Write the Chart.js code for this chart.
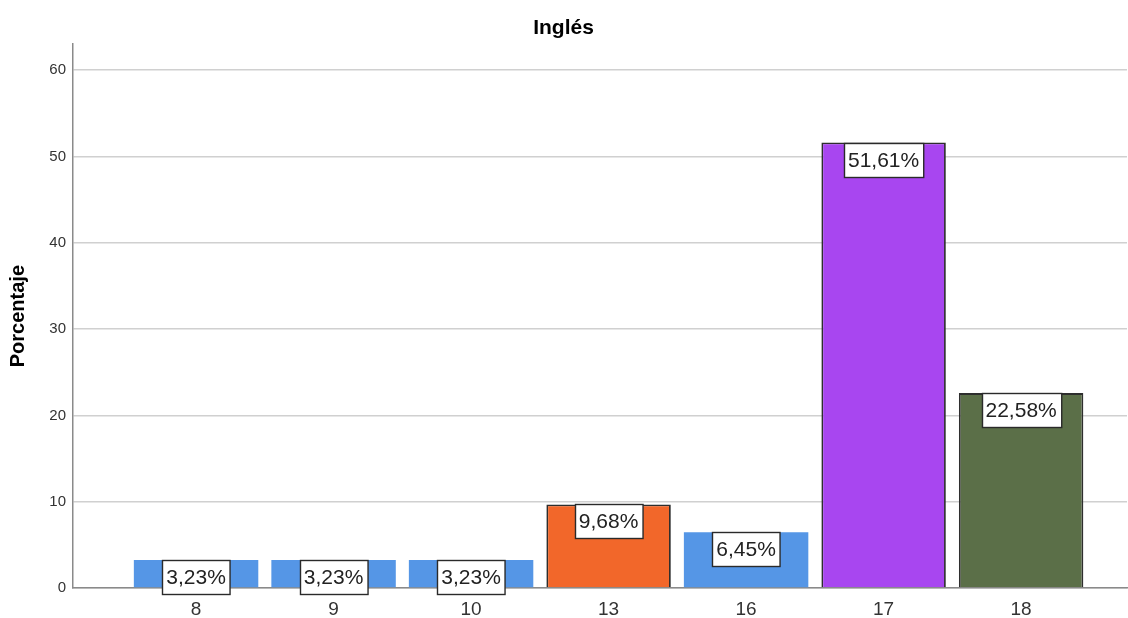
<!DOCTYPE html>
<html>
<head>
<meta charset="utf-8">
<title>Inglés</title>
<script src="https://cdn.jsdelivr.net/npm/chart.js@4/dist/chart.umd.min.js"></script>
<style>
  body { margin: 0; background: #fff; }
</style>
</head>
<body>
<canvas id="myChart" width="1128" height="618"></canvas>
<script>
const categories = ['8', '9', '10', '13', '16', '17', '18'];
const percentages = [3.23, 3.23, 3.23, 9.68, 6.45, 51.61, 22.58];
const yTicks = [0, 10, 20, 30, 40, 50, 60];

const barColors = ['#5596e6', '#5596e6', '#5596e6', '#f2672a', '#5596e6', '#a846f0', '#5b6f48'];
const barBorders = [0, 0, 0, 1.8, 0, 1.8, 1.8];

Chart.defaults.font.family = 'Arial, "Liberation Sans", sans-serif';

// white boxed value labels at the top of each bar
const valueLabels = {
  id: 'valueLabels',
  afterDatasetsDraw(chart) {
    const ctx = chart.ctx;
    const meta = chart.getDatasetMeta(0);
    ctx.save();
    ctx.font = '21px Arial, "Liberation Sans", sans-serif';
    ctx.textAlign = 'center';
    ctx.textBaseline = 'middle';
    meta.data.forEach((bar, i) => {
      const text = percentages[i].toFixed(2).replace('.', ',') + '%';
      const w = ctx.measureText(text).width + 8;
      const h = 34;
      const x = Math.round(bar.x - w / 2) + 0.5;
      const y = Math.round(bar.y) + 0.5;
      ctx.fillStyle = '#fff';
      ctx.fillRect(x, y, w, h);
      ctx.strokeStyle = '#2a2a2a';
      ctx.lineWidth = 1.4;
      ctx.strokeRect(x, y, w, h);
      ctx.fillStyle = '#222';
      ctx.fillText(text, bar.x, y + h / 2 + 1);
    });
    ctx.restore();
  }
};

new Chart(document.getElementById('myChart'), {
  type: 'bar',
  data: {
    datasets: [{
      data: percentages.map((v, i) => ({ x: i, y: v })),
      backgroundColor: barColors,
      borderColor: '#2e2e2e',
      borderWidth: barBorders,
      categoryPercentage: 1,
      barPercentage: 0.905
    }]
  },
  options: {
    responsive: false,
    animation: false,
    layout: { padding: { top: 0, right: 1, left: 0, bottom: 0 } },
    plugins: {
      legend: { display: false },
      tooltip: { enabled: false },
      title: {
        display: true,
        text: 'Inglés',
        color: '#000',
        font: { size: 21, weight: 'bold' },
        padding: { top: 16, bottom: 3 }
      }
    },
    scales: {
      x: {
        type: 'linear',
        offset: false,
        min: -0.895,
        max: 6.77,
        grid: { display: false, drawTicks: false },
        border: { display: true, color: '#8a8a8a', width: 1.5 },
        afterBuildTicks: (scale) => {
          scale.ticks = categories.map((c, i) => ({ value: i }));
        },
        afterFit: (scale) => { scale.height = 30; },
        ticks: {
          autoSkip: false,
          maxRotation: 0,
          padding: 10,
          color: '#333',
          font: { size: 19 },
          callback: (v) => categories[v]
        }
      },
      y: {
        min: 0,
        max: 63,
        afterBuildTicks: (scale) => {
          scale.ticks = yTicks.map(v => ({ value: v }));
        },
        afterFit: (scale) => { scale.width = 73; },
        grid: { color: '#d0d0d0', lineWidth: 1.5, drawTicks: false },
        border: { display: true, color: '#8a8a8a', width: 1.5 },
        ticks: {
          padding: 7,
          color: '#333',
          font: { size: 15 }
        },
        title: {
          display: true,
          text: 'Porcentaje',
          color: '#000',
          font: { size: 20, weight: 'bold' },
          padding: { top: 6, bottom: 0 }
        }
      }
    }
  },
  plugins: [valueLabels]
});
</script>
</body>
</html>
